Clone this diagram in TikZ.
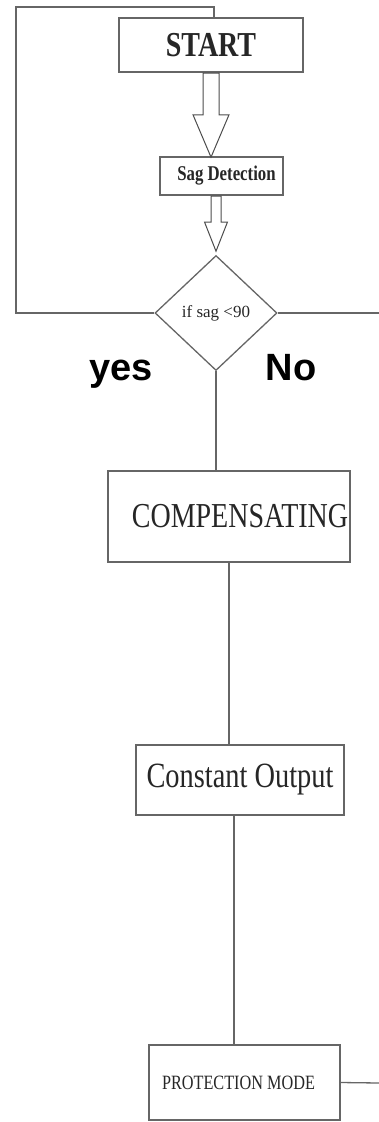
\documentclass[tikz,border=0pt]{standalone}
\usepackage{fontspec}
\setmainfont{Liberation Serif}
\setsansfont{Liberation Sans}
\newfontfamily\narrowserif[FakeStretch=0.8]{Liberation Serif}
\usetikzlibrary{shapes.geometric, shapes.arrows}

\begin{document}
\begin{tikzpicture}[x=1pt, y=1pt, node distance=2cm]
  \tikzstyle{block} = [draw=black!60, line width=1.4pt, rectangle, inner sep=0pt, text=black!85]
  \tikzstyle{decision} = [draw=black!60, line width=1.3pt, diamond, aspect=1, inner sep=0pt, text=black!85]
  \tikzstyle{hollow} = [draw=black!70, line width=1pt, single arrow, shape border rotate=270, single arrow head indent=0pt]
  \tikzstyle{line} = [draw=black!60, line width=1.3pt]
  \tikzstyle{answer} = [font=\sffamily\bfseries\fontsize{38}{40}\selectfont, anchor=base, inner sep=0pt]

  \useasboundingbox (0,0) rectangle (379,-1122);

  \node [block, minimum width=184pt, minimum height=54pt, font=\narrowserif\bfseries\fontsize{35}{37}\selectfont] (start) at (211,-45) {START};
  \node [block, below of=start, node distance=131pt, xshift=10.5pt, minimum width=123pt, minimum height=38pt, font=\narrowserif\bfseries\fontsize{21}{23}\selectfont] (sag) {\hspace*{10pt}Sag Detection};
  \node [decision, below of=sag, node distance=137pt, xshift=-5.5pt, minimum width=122pt, minimum height=115pt, font=\fontsize{17}{19}\selectfont] (dec) {if sag <90};
  \node [block, below of=dec, node distance=203.5pt, xshift=13pt, minimum width=242pt, minimum height=91pt, font=\narrowserif\fontsize{35}{38}\selectfont] (comp) {\hspace*{22pt}COMPENSATING};
  \node [block, below of=comp, node distance=263.5pt, xshift=11pt, minimum width=208pt, minimum height=70pt, font=\narrowserif\fontsize{35.5}{38}\selectfont] (const) {Constant Output};
  \node [block, below of=const, node distance=302.5pt, xshift=4.5pt, minimum width=191pt, minimum height=75pt, font=\narrowserif\fontsize{20.3}{22}\selectfont] (prot) {PROTECTION MODE\hspace*{12pt}};

  \node [hollow, anchor=tail, inner sep=7.5pt, minimum height=84pt, single arrow head extend=10pt, single arrow tip angle=46] (arrA) at (start.south) {};
  \node [hollow, anchor=tail, inner sep=4.5pt, minimum height=55pt, single arrow head extend=6.5pt, single arrow tip angle=43] (arrB) at (dec.north |- sag.south) {};

  \node [answer] (yes) at ([xshift=-95pt, yshift=-67pt]dec.center) {yes};
  \node [answer] (no) at ([xshift=75pt, yshift=-67pt]dec.center) {No};

  \coordinate (loopTL) at (16,-7);
  \coordinate (noEnd) at (379,-313);
  \coordinate (protEnd) at (379,-1083);

  \draw [line] (dec.west) -| (loopTL) -| ([xshift=3pt]start.north);
  \draw [line] (dec.east) -- (noEnd);
  \draw [line] (dec.south) -- (dec.south |- comp.north);
  \draw [line] (comp.south) -- (comp.south |- const.north);
  \draw [line] ([xshift=-6pt]const.south) -- ([xshift=-6pt]const.south |- prot.north);
  \draw [line] (prot.east) -- (protEnd);
\end{tikzpicture}
\end{document}
